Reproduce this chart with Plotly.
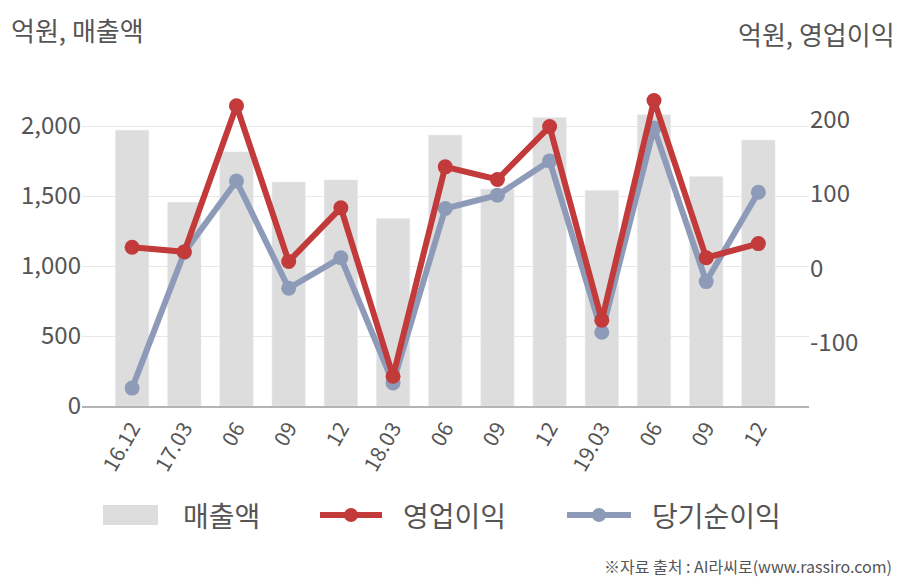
import plotly.graph_objects as go

# ---- data ----
periods = ["16.12", "17.03", "06", "09", "12", "18.03", "06", "09", "12", "19.03", "06", "09", "12"]
revenue = [1970, 1455, 1815, 1600, 1615, 1340, 1935, 1550, 2060, 1540, 2080, 1640, 1900]
op_profit = [28, 22, 218, 9, 81, -145, 136, 119, 190, -70, 225, 14, 33]
net_profit = [-161, 21, 117, -27, 14, -154, 80, 98, 144, -86, 188, -18, 102]
left_ticks = [0, 500, 1000, 1500, 2000]
right_ticks = [-100, 0, 100, 200]
right_tick_labels = ["-100", "0", "100", "200"]

FONT = "Noto Sans CJK KR, Noto Sans, sans-serif"
TXT = "#555555"
BAR_C = "#dddddd"
RED = "#c23a3a"
BLUE = "#8e9bb8"

W, H = 908, 580
ML, MR, MT, MB = 82, 99, 70, 174
PW, PH = W - ML - MR, H - MT - MB

def px_x(px):
    return (px - ML) / PW

def px_y(py):
    return (H - MB - py) / PH

idx = list(range(len(periods)))

fig = go.Figure()
fig.add_trace(go.Bar(x=idx, y=revenue, marker_color=BAR_C, name="매출액",
                     showlegend=False, hoverinfo="y"))
fig.add_trace(go.Scatter(x=idx, y=net_profit, yaxis="y2", mode="lines+markers",
                         line=dict(color=BLUE, width=6), marker=dict(size=15, color=BLUE),
                         name="당기순이익", showlegend=False))
fig.add_trace(go.Scatter(x=idx, y=op_profit, yaxis="y2", mode="lines+markers",
                         line=dict(color=RED, width=6), marker=dict(size=15, color=RED),
                         name="영업이익", showlegend=False))

fig.update_layout(
    width=W, height=H,
    margin=dict(l=ML, r=MR, t=MT, b=MB, pad=0),
    paper_bgcolor="white", plot_bgcolor="white",
    font=dict(family=FONT, color=TXT),
    bargap=0.36,
    xaxis=dict(range=[-0.96, 12.97], tickmode="array", tickvals=idx, ticktext=periods,
               tickangle=-60, tickfont=dict(size=21, color=TXT), showgrid=False,
               showline=True, linecolor="#b4b4b4", linewidth=1.5, ticks="", zeroline=False),
    yaxis=dict(range=[0, 2400], tickmode="array", tickvals=left_ticks, tickformat=",",
               tickfont=dict(size=24, color=TXT), showgrid=True, gridcolor="#e8e8e8",
               gridwidth=1, zeroline=False, ticks="", showline=False),
    yaxis2=dict(range=[-185, 266], overlaying="y", side="right", tickmode="array",
                tickvals=right_ticks, ticktext=right_tick_labels,
                tickfont=dict(size=24, color=TXT), showgrid=False,
                zeroline=False, ticks="", showline=False),
)

# axis titles
fig.add_annotation(text="억원, 매출액", xref="paper", yref="paper", x=px_x(9), y=px_y(30),
                   xanchor="left", yanchor="middle", showarrow=False,
                   font=dict(size=26, color=TXT, family=FONT))
fig.add_annotation(text="억원, 영업이익", xref="paper", yref="paper", x=px_x(897), y=px_y(34),
                   xanchor="right", yanchor="middle", showarrow=False,
                   font=dict(size=26, color=TXT, family=FONT))

# custom legend
LY = 515
fig.add_shape(type="rect", xref="paper", yref="paper", x0=px_x(103), x1=px_x(158),
              y0=px_y(525), y1=px_y(505), fillcolor=BAR_C, line=dict(width=0))
fig.add_annotation(text="매출액", xref="paper", yref="paper", x=px_x(181), y=px_y(LY),
                   xanchor="left", yanchor="middle", showarrow=False,
                   font=dict(size=28, color=TXT, family=FONT))
for (x0, x1, col, label, tx) in [(320, 382, RED, "영업이익", 401), (567, 631, BLUE, "당기순이익", 650)]:
    fig.add_shape(type="line", xref="paper", yref="paper", x0=px_x(x0), x1=px_x(x1),
                  y0=px_y(LY), y1=px_y(LY), line=dict(color=col, width=6))
    cx = (x0 + x1) / 2
    fig.add_shape(type="circle", xref="paper", yref="paper", x0=px_x(cx - 7), x1=px_x(cx + 7),
                  y0=px_y(LY + 7), y1=px_y(LY - 7), fillcolor=col, line=dict(width=0))
    fig.add_annotation(text=label, xref="paper", yref="paper", x=px_x(tx), y=px_y(LY),
                       xanchor="left", yanchor="middle", showarrow=False,
                       font=dict(size=28, color=TXT, family=FONT))

fig.add_annotation(text="※자료 출처 : AI라씨로(www.rassiro.com)", xref="paper", yref="paper",
                   x=px_x(894), y=px_y(566), xanchor="right", yanchor="middle", showarrow=False,
                   font=dict(size=16, color=TXT, family=FONT))

fig.write_html("out.html")
